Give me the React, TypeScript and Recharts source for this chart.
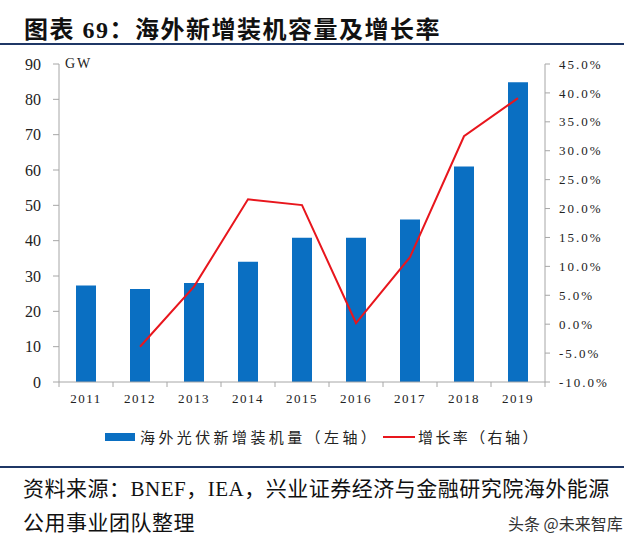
import { ComposedChart, Bar, Line, XAxis, YAxis, Legend } from 'recharts';

const years = ['2011', '2012', '2013', '2014', '2015', '2016', '2017', '2018', '2019'];
const capacity = [27.3, 26.3, 28.0, 34.0, 40.8, 40.8, 46.0, 61.0, 84.8];
const growth = [null, -3.9, 6.5, 21.6, 20.6, 0.2, 11.6, 32.5, 39.1];
const leftTicks = [0, 10, 20, 30, 40, 50, 60, 70, 80, 90];
const rightTicks = [-10, -5, 0, 5, 10, 15, 20, 25, 30, 35, 40, 45];

const data = years.map((year, i) => ({ year, capacity: capacity[i], growth: growth[i] }));

const BLUE = '#0A6FC2';
const RED = '#E8161D';
const NAVY = '#1F3766';
const AXIS = '#A6A6A6';
const serif = '"Liberation Serif", "Noto Sans CJK SC", serif';
const cjk = '"Liberation Serif", "Noto Sans CJK SC", sans-serif';

// x ticks sit between categories in the original, so draw them half a band to the right
const XTick = (props: any) => {
  const { x, y, payload, index } = props;
  const band = 54;
  return (
    <g>
      {index === 0 && <line x1={x - band / 2} y1={y - 8} x2={x - band / 2} y2={y - 3} stroke={AXIS} />}
      <line x1={x + band / 2} y1={y - 8} x2={x + band / 2} y2={y - 3} stroke={AXIS} />
      <text x={x} y={y + 13} textAnchor="middle" fontSize={13} fill="#222" fontFamily={serif} letterSpacing={1.5}>
        {payload.value}
      </text>
    </g>
  );
};

const LegendContent = () => (
  <div style={{ position: 'relative', height: 58, fontFamily: cjk, fontSize: 15, color: '#222' }}>
    <div style={{ position: 'absolute', left: 105, top: 21, width: 30, height: 8, background: BLUE }} />
    <div style={{ position: 'absolute', left: 140, top: 14, letterSpacing: 3.4, whiteSpace: 'nowrap' }}>海外光伏新增装机量（左轴）</div>
    <div style={{ position: 'absolute', left: 383, top: 24, width: 32, height: 2, background: RED }} />
    <div style={{ position: 'absolute', left: 418, top: 14, letterSpacing: 2.4, whiteSpace: 'nowrap' }}>增长率（右轴）</div>
  </div>
);

export default function App() {
  return (
    <div style={{ position: 'absolute', left: 0, top: 0, width: 640, height: 545, background: '#fff', overflow: 'hidden' }}>
      <div style={{ position: 'absolute', left: 24, top: 10, fontFamily: cjk, fontSize: 24, fontWeight: 700, color: '#111', letterSpacing: 1.5, whiteSpace: 'nowrap' }}>
        图表 69：海外新增装机容量及增长率
      </div>
      <div style={{ position: 'absolute', left: 0, top: 43, width: 624, height: 2, background: NAVY }} />

      <div style={{ position: 'absolute', left: 0, top: 50 }}>
        <ComposedChart width={640} height={420} data={data} margin={{ top: 14, right: 0, left: 0, bottom: 0 }} barCategoryGap={17}>
          <XAxis dataKey="year" height={30} stroke={AXIS} tickLine={false} tick={<XTick />} interval={0} />
          <YAxis
            yAxisId="left"
            width={59}
            domain={[0, 90]}
            ticks={leftTicks}
            interval={0}
            stroke={AXIS}
            tickSize={6}
            tickMargin={12}
            tick={{ fontSize: 16, fill: '#222', fontFamily: serif }}
          />
          <YAxis
            yAxisId="right"
            orientation="right"
            width={95}
            domain={[-10, 45]}
            ticks={rightTicks}
            interval={0}
            stroke={AXIS}
            tickSize={5}
            tickMargin={9}
            tickFormatter={(v: number) => `${v.toFixed(1)}%`}
            tick={{ fontSize: 13, fill: '#222', fontFamily: serif, letterSpacing: 2, textAnchor: 'start' }}
          />
          <Legend verticalAlign="bottom" height={58} content={<LegendContent />} />
          <Bar yAxisId="left" dataKey="capacity" name="海外光伏新增装机量（左轴）" fill={BLUE} isAnimationActive={false} />
          <Line
            yAxisId="right"
            type="linear"
            dataKey="growth"
            name="增长率（右轴）"
            stroke={RED}
            strokeWidth={2}
            dot={false}
            connectNulls={false}
            isAnimationActive={false}
          />
        </ComposedChart>
      </div>

      <div style={{ position: 'absolute', left: 65, top: 56, fontFamily: serif, fontSize: 14, color: '#222', letterSpacing: 2 }}>GW</div>

      <div style={{ position: 'absolute', left: 0, top: 466, width: 624, height: 2, background: NAVY }} />
      <div style={{ position: 'absolute', left: 23, top: 472, fontFamily: cjk, fontSize: 21, color: '#111', letterSpacing: 0.5, whiteSpace: 'nowrap' }}>
        资料来源：BNEF，IEA，兴业证券经济与金融研究院海外能源
      </div>
      <div style={{ position: 'absolute', left: 23, top: 506, fontFamily: cjk, fontSize: 21, color: '#111', letterSpacing: 0.5, whiteSpace: 'nowrap' }}>
        公用事业团队整理
      </div>
      <div style={{ position: 'absolute', left: 508, top: 511, fontFamily: '"Noto Sans CJK SC", sans-serif', fontSize: 16, color: '#333', whiteSpace: 'nowrap' }}>
        头条 @未来智库
      </div>
    </div>
  );
}
